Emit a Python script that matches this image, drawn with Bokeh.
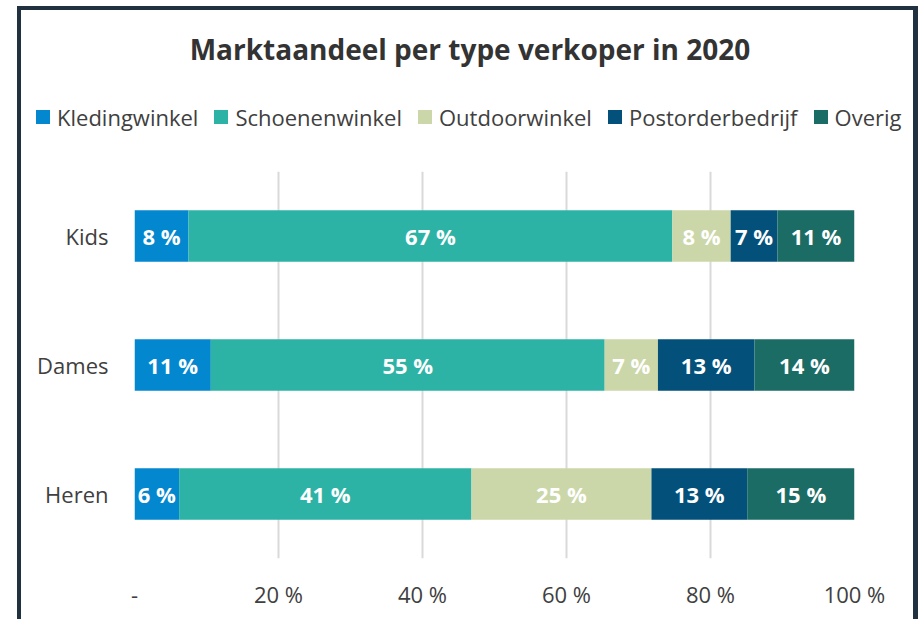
import math
from bokeh.plotting import figure
from bokeh.layouts import column
from bokeh.models import Range1d, FactorRange, ColumnDataSource, Div
from bokeh.core.properties import value
from bokeh.embed import file_html
from bokeh.resources import INLINE

# ---- data ----
categories = ["Kids", "Dames", "Heren"]
series = ["Kledingwinkel", "Schoenenwinkel", "Outdoorwinkel", "Postorderbedrijf", "Overig"]
kledingwinkel = [7.5, 10.6, 6.2]
schoenenwinkel = [67.2, 54.7, 40.6]
outdoorwinkel = [8.1, 7.4, 25.0]
postorderbedrijf = [6.5, 13.4, 13.3]
overig = [10.7, 13.9, 14.9]
colors = ["#0387cf", "#2db3a6", "#cbd7a9", "#03517a", "#1c6c66"]
x_ticks = [0, 20, 40, 60, 80, 100]
x_tick_labels = ["-", "20 %", "40 %", "60 %", "80 %", "100 %"]
title_text = "Marktaandeel per type verkoper in 2020"

values = [kledingwinkel, schoenenwinkel, outdoorwinkel, postorderbedrijf, overig]

FONT = "Open Sans"
TEXT_COLOR = "#404040"
BORDER = "#22313f"
W = 901
HEADER_H = 165
MAIN_H = 448

# ---- header: title + legend (HTML) ----
legend_items = "".join(
    f'<div style="display:flex;align-items:center;margin-right:16px;flex:none;">'
    f'<span style="display:inline-block;width:14px;height:14px;background:{c};margin-right:7px;"></span>'
    f'<span>{s}</span></div>'
    for s, c in zip(series, colors)
)
header_html = (
    f'<div style="position:relative;width:{W}px;height:{HEADER_H}px;font-family:\'{FONT}\';">'
    f'<div style="position:absolute;left:0;top:24px;width:906px;text-align:center;'
    f'font-weight:bold;font-size:28px;line-height:38px;color:#333333;white-space:nowrap;">{title_text}</div>'
    f'<div style="position:absolute;left:0;top:96px;width:896px;height:30px;overflow:hidden;">'
    f'<div style="display:flex;flex-wrap:nowrap;align-items:center;margin-left:19px;'
    f'font-size:22px;line-height:30px;color:{TEXT_COLOR};white-space:nowrap;">{legend_items}</div>'
    f'</div></div>'
)
head = Div(text=header_html, width=W, height=HEADER_H, margin=0)

# ---- main chart ----
p = figure(
    width=W, height=MAIN_H, title=None,
    x_range=Range1d(0, 100),
    y_range=FactorRange(factors=categories[::-1]),
    output_backend="svg", toolbar_location=None,
    min_border_left=117, min_border_right=64,
    min_border_top=0, min_border_bottom=61,
)
p.outline_line_color = None
p.background_fill_color = None
p.border_fill_color = None

left = [0.0] * len(categories)
for name, vals, col in zip(series, values, colors):
    right = [l + v for l, v in zip(left, vals)]
    mid = [(l + r) / 2 for l, r in zip(left, right)]
    labels = [f"{math.floor(v + 0.5)} %" for v in vals]
    src = ColumnDataSource(dict(y=categories, left=list(left), right=right, mid=mid, label=labels))
    p.hbar(y="y", left="left", right="right", height=0.4, source=src,
           fill_color=col, line_color=None)
    p.text(x="mid", y="y", text="label", source=src, text_align="center",
           text_baseline="middle", text_color="white", text_font=value(FONT),
           text_font_style="bold", text_font_size="22px")
    left = right

p.xaxis.ticker = x_ticks
p.xaxis.major_label_overrides = {t: l for t, l in zip(x_ticks, x_tick_labels)}
for ax in (p.xaxis, p.yaxis):
    ax.axis_line_color = None
    ax.major_tick_line_color = None
    ax.minor_tick_line_color = None
    ax.major_tick_out = 0
    ax.major_tick_in = 0
    ax.major_label_text_font = FONT
    ax.major_label_text_font_size = "22px"
    ax.major_label_text_color = TEXT_COLOR
p.xaxis.major_label_standoff = 20
p.yaxis.major_label_standoff = 26

p.xgrid.grid_line_color = "#d9d9d9"
p.xgrid.grid_line_width = 2
p.ygrid.grid_line_color = None

layout = column(head, p, spacing=0)
layout.styles = {
    "margin-left": "17px",
    "margin-top": "6px",
    "box-shadow": f"inset 4px 4px 0 0 {BORDER}, inset -5px 0 0 0 {BORDER}",
}

open("out.html", "w").write(file_html(layout, INLINE))
